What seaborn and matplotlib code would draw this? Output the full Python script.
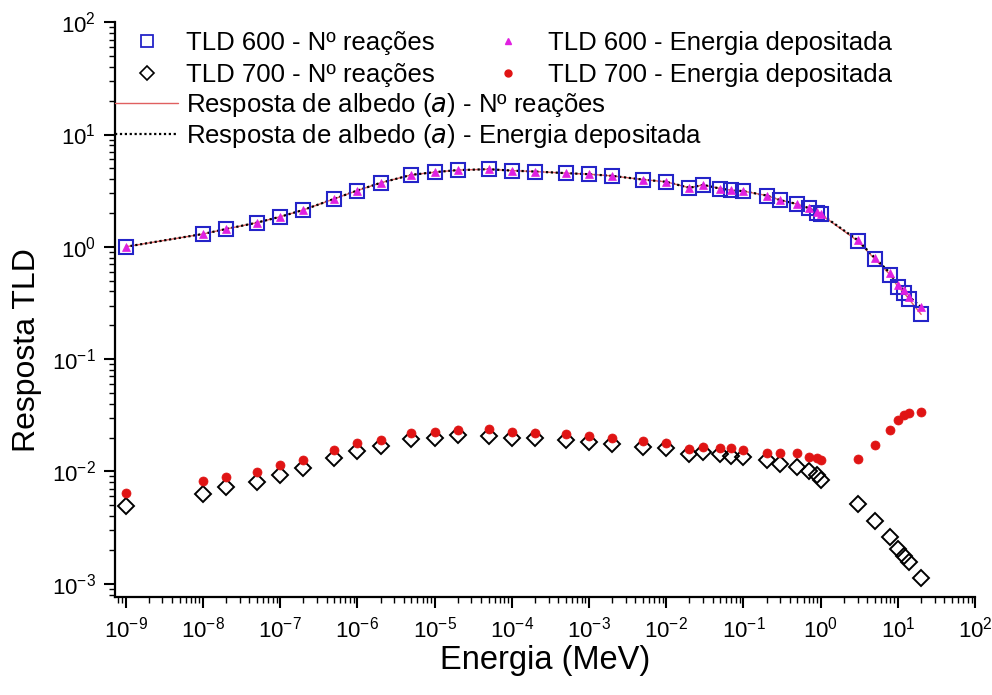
import numpy as np
import pandas as pd
import matplotlib
matplotlib.use("Agg")
import matplotlib.pyplot as plt
import seaborn as sns
from matplotlib.ticker import LogLocator, NullFormatter, FixedLocator
from matplotlib.lines import Line2D

# energia (MeV)
energia = [1e-9, 1e-8, 2e-8, 5e-8, 1e-7, 2e-7, 5e-7, 1e-6, 2e-6, 5e-6,
           1e-5, 2e-5, 5e-5, 1e-4, 2e-4, 5e-4, 1e-3, 2e-3, 5e-3, 1e-2,
           2e-2, 3e-2, 5e-2, 7e-2, 1e-1, 2e-1, 3e-1, 5e-1, 7e-1, 0.9,
           1.0, 3.0, 5.0, 8.0, 10.0, 12.0, 14.0, 20.0]

tld600_reacoes = [1.00, 1.30, 1.44, 1.64, 1.85, 2.13, 2.67, 3.17, 3.71, 4.37,
                  4.62, 4.82, 4.91, 4.77, 4.68, 4.53, 4.43, 4.28, 3.97, 3.79,
                  3.35, 3.56, 3.30, 3.19, 3.13, 2.86, 2.60, 2.40, 2.21, 2.02,
                  1.95, 1.13, 0.78, 0.56, 0.44, 0.39, 0.34, 0.25]

tld600_energia = [1.00, 1.30, 1.44, 1.64, 1.85, 2.13, 2.67, 3.17, 3.71, 4.37,
                  4.62, 4.82, 4.91, 4.77, 4.68, 4.53, 4.43, 4.28, 3.97, 3.79,
                  3.35, 3.56, 3.30, 3.19, 3.13, 2.86, 2.60, 2.40, 2.21, 2.03,
                  1.96, 1.15, 0.80, 0.58, 0.46, 0.41, 0.36, 0.29]

tld700_reacoes = [4.9e-3, 6.3e-3, 7.2e-3, 8.0e-3, 9.3e-3, 1.07e-2, 1.32e-2, 1.51e-2, 1.67e-2, 1.93e-2,
                  1.99e-2, 2.10e-2, 2.05e-2, 2.00e-2, 1.99e-2, 1.92e-2, 1.81e-2, 1.76e-2, 1.65e-2, 1.62e-2,
                  1.44e-2, 1.48e-2, 1.44e-2, 1.36e-2, 1.33e-2, 1.25e-2, 1.17e-2, 1.09e-2, 1.01e-2, 9.2e-3,
                  8.3e-3, 5.1e-3, 3.6e-3, 2.6e-3, 2.05e-3, 1.78e-3, 1.55e-3, 1.12e-3]

tld700_energia = [6.4e-3, 8.2e-3, 8.9e-3, 9.8e-3, 1.14e-2, 1.27e-2, 1.55e-2, 1.78e-2, 1.92e-2, 2.18e-2,
                  2.23e-2, 2.35e-2, 2.39e-2, 2.25e-2, 2.21e-2, 2.14e-2, 2.05e-2, 1.99e-2, 1.87e-2, 1.80e-2,
                  1.58e-2, 1.66e-2, 1.61e-2, 1.62e-2, 1.56e-2, 1.46e-2, 1.46e-2, 1.46e-2, 1.33e-2, 1.32e-2,
                  1.25e-2, 1.30e-2, 1.71e-2, 2.32e-2, 2.85e-2, 3.18e-2, 3.31e-2, 3.36e-2]

decadas_x = [1e-9, 1e-8, 1e-7, 1e-6, 1e-5, 1e-4, 1e-3, 1e-2, 1e-1, 1e0, 1e1, 1e2]
decadas_y = [1e-3, 1e-2, 1e-1, 1e0, 1e1, 1e2]

sns.set_style("ticks")
plt.rcParams['font.family'] = ['Liberation Sans', 'DejaVu Sans']
plt.rcParams['mathtext.default'] = 'regular'
plt.rcParams['axes.unicode_minus'] = False
plt.rcParams['text.color'] = 'black'
plt.rcParams['axes.labelcolor'] = 'black'

fig = plt.figure(figsize=(9.92, 6.95), dpi=100)
ax = fig.add_axes([0.116, 0.141, 0.867, 0.827])

azul = "#2424c8"
magenta = "#e020e0"
vermelho = "#e01414"
linha_verm = "#e06060"
pontilhado = (0, (1, 1.2))

sns.lineplot(x=energia, y=tld600_reacoes, ax=ax, color=linha_verm, lw=1.0,
             estimator=None, sort=False)
sns.lineplot(x=energia, y=tld600_energia, ax=ax, color="black", lw=1.6,
             linestyle=pontilhado, estimator=None, sort=False)
sns.lineplot(x=energia, y=tld600_reacoes, ax=ax, linestyle="", marker="s", ms=10,
             markerfacecolor="none", markeredgecolor=azul, markeredgewidth=1.5,
             estimator=None, sort=False)
sns.lineplot(x=energia, y=tld600_energia, ax=ax, linestyle="", marker="^", ms=5.5,
             color=magenta, markeredgecolor=magenta, markeredgewidth=0.5,
             estimator=None, sort=False)
sns.lineplot(x=energia, y=tld700_reacoes, ax=ax, linestyle="", marker="D", ms=8.5,
             markerfacecolor="none", markeredgecolor="black", markeredgewidth=1.4,
             estimator=None, sort=False)
sns.lineplot(x=energia, y=tld700_energia, ax=ax, linestyle="", marker="o", ms=6.5,
             color=vermelho, markeredgecolor=vermelho, markeredgewidth=0.5,
             estimator=None, sort=False)

ax.set_xscale("log")
ax.set_yscale("log")
ax.set_xlim(7.3e-10, 1e2)
ax.set_ylim(7.6e-4, 1e2)

ax.xaxis.set_major_locator(FixedLocator(decadas_x))
ax.yaxis.set_major_locator(FixedLocator(decadas_y))
for axis in (ax.xaxis, ax.yaxis):
    axis.set_minor_locator(LogLocator(base=10, subs=np.arange(2, 10), numticks=30))
    axis.set_minor_formatter(NullFormatter())

ax.tick_params(which="major", direction="out", length=8, width=1.5, labelsize=16,
               colors="black", pad=6)
ax.tick_params(which="minor", direction="out", length=4, width=1.0, colors="black")
sns.despine(ax=ax)
for s in ("left", "bottom"):
    ax.spines[s].set_linewidth(1.6)
    ax.spines[s].set_color("black")

ax.set_xlabel("Energia (MeV)", fontsize=23.5, labelpad=2)
ax.set_ylabel("Resposta TLD", fontsize=23, labelpad=6)
ax.yaxis.set_label_coords(-0.085, 0.43)

h_markers = [
    Line2D([], [], linestyle="", marker="s", ms=8, markerfacecolor="none",
           markeredgecolor=azul, markeredgewidth=1.3),
    Line2D([], [], linestyle="", marker="D", ms=7, markerfacecolor="none",
           markeredgecolor="black", markeredgewidth=1.2),
    Line2D([], [], linestyle="", marker="^", ms=5, color=magenta),
    Line2D([], [], linestyle="", marker="o", ms=5, color=vermelho),
]
l_markers = ["TLD 600 - Nº reações", "TLD 700 - Nº reações",
             "TLD 600 - Energia depositada", "TLD 700 - Energia depositada"]
leg1 = ax.legend(h_markers, l_markers, ncol=2, frameon=False, fontsize=18.5,
                 loc="upper left", bbox_to_anchor=(0.0, 0.985),
                 handlelength=2.45, handletextpad=0.3, labelspacing=0.32,
                 columnspacing=1.65, borderaxespad=0, borderpad=0)
ax.add_artist(leg1)

h_lines = [Line2D([], [], color=linha_verm, lw=1.0),
           Line2D([], [], color="black", lw=1.6, linestyle=pontilhado)]
l_lines = ["Resposta de albedo ($\\it{a}$) - Nº reações",
           "Resposta de albedo ($\\it{a}$) - Energia depositada"]
ax.legend(h_lines, l_lines, frameon=False, fontsize=18.5,
          loc="upper left", bbox_to_anchor=(0.0, 0.880),
          handlelength=2.45, handletextpad=0.3, labelspacing=0.09,
          borderaxespad=0, borderpad=0)

fig.savefig("out.png", dpi=100)
